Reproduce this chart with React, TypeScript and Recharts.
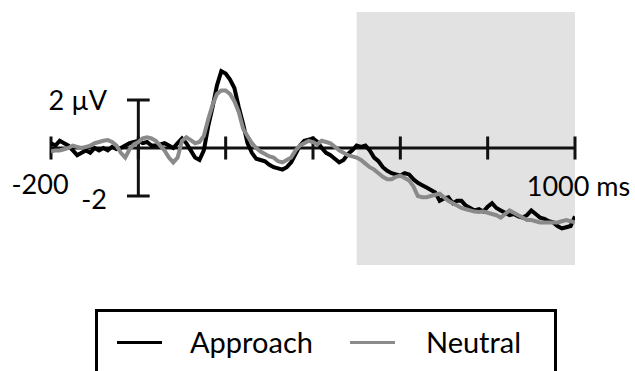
import {
  LineChart,
  Line,
  XAxis,
  YAxis,
  ReferenceArea,
  ReferenceLine,
  ReferenceDot,
  Legend,
} from "recharts";

// sampling grid, ms
const times = Array.from({ length: 121 }, (_, i) => -200 + i * 10);

// µV, every 10 ms
const approach = [
  0.2, 0.1, 0.3, 0.2, 0.1, -0.1, -0.3, -0.2, -0.1, -0.2,
  0.0, -0.1, 0.0, -0.1, 0.05, -0.05, 0.0, 0.1, 0.2, 0.25,
  0.3, 0.2, 0.25, 0.1, 0.1, 0.15, 0.2, 0.1, 0.0, 0.2,
  0.4, 0.2, -0.1, -0.4, -0.5, -0.1, 0.9, 1.7, 2.6, 3.2,
  3.1, 2.85, 2.5, 1.7, 1.0, 0.2, -0.2, -0.45, -0.5, -0.55,
  -0.7, -0.8, -0.85, -0.9, -0.8, -0.6, -0.25, 0.1, 0.3, 0.35,
  0.4, 0.25, 0.0, -0.2, -0.3, -0.45, -0.6, -0.5, -0.25, -0.1,
  0.1, 0.05, 0.1, -0.1, -0.4, -0.55, -0.8, -0.95, -1.05, -1.1,
  -1.15, -1.05, -1.1, -1.3, -1.45, -1.55, -1.65, -1.75, -1.85, -2.2,
  -2.1, -2.05, -2.3, -2.2, -2.2, -2.4, -2.5, -2.6, -2.55, -2.65,
  -2.45, -2.3, -2.5, -2.6, -2.7, -2.8, -2.75, -2.85, -2.9, -2.8,
  -2.6, -2.75, -2.9, -2.95, -3.05, -3.1, -3.25, -3.35, -3.3, -3.25,
  -2.85,
];

const neutral = [
  -0.15, -0.1, -0.1, -0.05, 0.0, 0.1, 0.05, 0.0, 0.05, 0.1,
  0.2, 0.25, 0.3, 0.33, 0.25, 0.1, -0.2, -0.4, -0.05, 0.15,
  0.25, 0.4, 0.45, 0.4, 0.3, 0.1, -0.1, -0.4, -0.6, -0.4,
  0.3, 0.45, 0.33, 0.2, 0.25, 0.5, 1.2, 1.8, 2.25, 2.4,
  2.4, 2.25, 1.95, 1.5, 0.8, 0.5, 0.2, 0.0, -0.15, -0.25,
  -0.35, -0.4, -0.55, -0.6, -0.5, -0.4, -0.1, 0.1, 0.2, 0.3,
  0.25, 0.15, 0.3, 0.25, 0.2, 0.05, -0.1, -0.2, -0.3, -0.35,
  -0.4, -0.5, -0.65, -0.8, -0.9, -1.05, -1.2, -1.3, -1.3, -1.2,
  -1.15, -1.25, -1.35, -1.6, -2.0, -2.05, -2.05, -2.0, -1.95, -1.9,
  -2.05, -2.2, -2.3, -2.4, -2.5, -2.55, -2.6, -2.65, -2.67, -2.65,
  -2.7, -2.75, -2.8, -2.9, -2.75, -2.6, -2.7, -2.8, -2.9, -3.0,
  -3.0, -3.05, -3.1, -3.1, -3.1, -3.1, -3.1, -3.05, -3.0, -3.05,
  -3.1,
];

const seriesNames = ["Approach", "Neutral"];
const seriesColors = ["#000000", "#8a8a8a"];
const xTicks = [-200, 0, 200, 400, 600, 800, 1000];
const window = [500, 1000];
const scaleBar = [-2, 2];

const data = times.map((t, i) => ({ t, approach: approach[i], neutral: neutral[i] }));

const FONT = "Lato, 'Open Sans', sans-serif";
const AXIS = "#111";

const labelStyle = { fill: "#000", fontSize: 27, fontFamily: FONT };

function LegendBox() {
  return (
    <div
      style={{
        boxSizing: "border-box",
        width: 462,
        height: 90,
        border: "3px solid #000",
        paddingTop: 15,
        paddingLeft: 19,
        display: "flex",
        alignItems: "flex-start",
        fontFamily: FONT,
        fontSize: 29,
        lineHeight: "30px",
        color: "#000",
      }}
    >
      {seriesNames.map((name, i) => (
        <div key={name} style={{ display: "flex", alignItems: "center", height: 30 }}>
          <span
            style={{
              display: "inline-block",
              width: 45,
              height: 3,
              background: seriesColors[i],
              marginRight: i === 0 ? 28 : 31,
            }}
          />
          <span style={{ marginRight: 37 }}>{name}</span>
        </div>
      ))}
    </div>
  );
}

export default function App() {
  return (
    <div
      style={{
        position: "absolute",
        left: 0,
        top: 0,
        width: 635,
        height: 371,
        overflow: "hidden",
        background: "#fff",
        fontFamily: FONT,
      }}
    >
      <LineChart
        width={635}
        height={371}
        data={data}
        margin={{ top: 12, right: 60, left: 51, bottom: 106 }}
      >
        <XAxis dataKey="t" type="number" domain={[-200, 1000]} hide allowDataOverflow />
        <YAxis type="number" domain={[-4.875, 5.667]} hide allowDataOverflow />
        <ReferenceArea
          x1={window[0]}
          x2={window[1]}
          y1={-4.875}
          y2={5.667}
          fill="#e2e2e2"
          fillOpacity={1}
          stroke="none"
        />
        <ReferenceLine y={0} stroke={AXIS} strokeWidth={3} />
        {xTicks.map((t) => (
          <ReferenceLine
            key={t}
            segment={[
              { x: t, y: -0.48 },
              { x: t, y: 0.48 },
            ]}
            stroke={AXIS}
            strokeWidth={3}
          />
        ))}
        <ReferenceLine
          segment={[
            { x: 0, y: scaleBar[0] },
            { x: 0, y: scaleBar[1] },
          ]}
          stroke={AXIS}
          strokeWidth={3}
        />
        {scaleBar.map((v) => (
          <ReferenceLine
            key={v}
            segment={[
              { x: -26, y: v },
              { x: 26, y: v },
            ]}
            stroke={AXIS}
            strokeWidth={3}
          />
        ))}
        <Line
          dataKey="approach"
          stroke={seriesColors[0]}
          strokeWidth={4}
          dot={false}
          isAnimationActive={false}
        />
        <Line
          dataKey="neutral"
          stroke={seriesColors[1]}
          strokeWidth={4}
          dot={false}
          isAnimationActive={false}
        />
        <ReferenceDot
          x={-26}
          y={scaleBar[1]}
          r={0}
          fill="none"
          stroke="none"
          label={{ value: "2 µV", position: "left", offset: 20, ...labelStyle }}
        />
        <ReferenceDot
          x={-26}
          y={scaleBar[0] - 0.15}
          r={0}
          fill="none"
          stroke="none"
          label={{ value: "-2", position: "left", offset: 20, ...labelStyle }}
        />
        <ReferenceDot
          x={-225}
          y={-1.5}
          r={0}
          fill="none"
          stroke="none"
          ifOverflow="visible"
          label={{ value: "-200", position: "center", ...labelStyle }}
        />
        <ReferenceDot
          x={1008}
          y={-1.6}
          r={0}
          fill="none"
          stroke="none"
          ifOverflow="visible"
          label={{ value: "1000 ms", position: "center", ...labelStyle }}
        />
        <Legend
          layout="horizontal"
          verticalAlign="middle"
          align="center"
          content={() => <LegendBox />}
          wrapperStyle={{ left: 95, top: 309, width: 462, height: 90 }}
        />
      </LineChart>
    </div>
  );
}
